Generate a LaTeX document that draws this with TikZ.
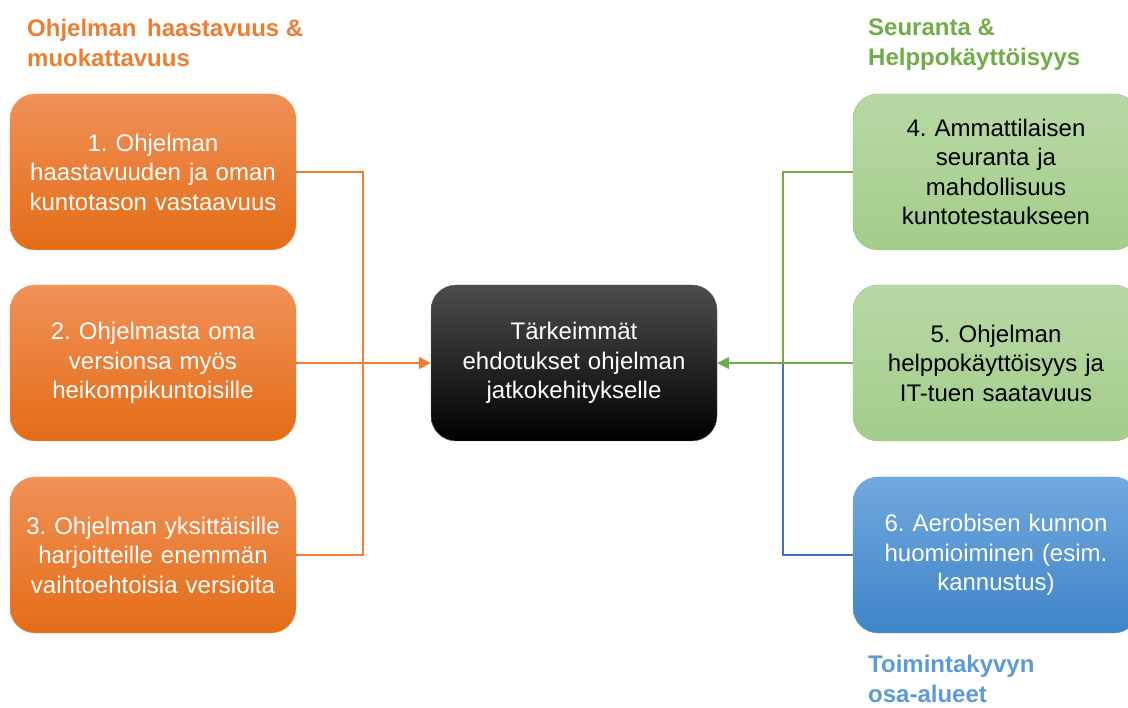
\documentclass[tikz,border=0pt]{standalone}
\usepackage{fontspec}
\setmainfont{Liberation Sans}
\usepackage{tikz}
\usetikzlibrary{arrows.meta}

\definecolor{ohjorange}{HTML}{ED7D31}
\definecolor{ohjgreen}{HTML}{70AD47}
\definecolor{ohjblue}{HTML}{5B9BD5}
\definecolor{linkblue}{HTML}{4472C4}
\frenchspacing

\begin{document}
\begin{tikzpicture}[x=1pt,y=-1pt]
      \tikzstyle{box}=[rectangle,rounded corners=25pt,minimum height=156pt,text width=276pt,inner sep=5pt,align=center,font=\fontsize{24}{29.5}\selectfont]
      \tikzstyle{obox}=[box,draw=ohjorange!75!white,top color={rgb,255:red,240;green,145;blue,88},middle color={rgb,255:red,241;green,126;blue,46},bottom color={rgb,255:red,228;green,108;blue,22},text=white]
      \tikzstyle{gbox}=[box,draw=ohjgreen!75!white,top color={rgb,255:red,184;green,216;blue,165},bottom color={rgb,255:red,163;green,205;blue,138},text=black]
      \tikzstyle{bbox}=[box,draw=ohjblue!90!white,top color={rgb,255:red,114;green,168;blue,222},bottom color={rgb,255:red,62;green,132;blue,200},text=white]
      \tikzstyle{cbox}=[box,draw=black!60,top color=black!70,middle color=black,bottom color=black,text=white]
      \tikzstyle{title}=[anchor=north west,inner sep=0pt,align=left,font=\fontsize{24}{30}\selectfont\bfseries]
      \tikzstyle{link}=[line width=1.6pt]
      \useasboundingbox (0,0) rectangle (1128,708);
      % ryhmien otsikot
      \node[title,text=ohjorange] (tleft) at (27,19) {Ohjelman \,haastavuus \&\\muokattavuus};
      \node[title,text=ohjgreen] (tright) at (868,19) {Seuranta \&\\Helppokäyttöisyys};
      \node[title,text=ohjblue] (tbottom) at (868,655) {Toimintakyvyn\\osa-alueet};
      % laatikot
      \node[obox] (o1) at (153,172) {1. Ohjelman\\haastavuuden ja oman\\kuntotason vastaavuus};
      \node[obox] (o2) at (153,363) {2. Ohjelmasta oma\\versionsa myös\\heikompikuntoisille};
      \node[obox] (o3) at (153,555) {3. Ohjelman yksittäisille\\harjoitteille enemmän\\vaihtoehtoisia versioita};
      \node[cbox] (main) at (574,363) {Tärkeimmät\\ehdotukset ohjelman\\jatkokehitykselle};
      \node[gbox] (g4) at (996,172) {4. Ammattilaisen\\seuranta ja\\mahdollisuus\\kuntotestaukseen};
      \node[gbox] (g5) at (996,363) {5. Ohjelman\\helppokäyttöisyys ja\\IT-tuen saatavuus};
      \node[bbox] (b6) at (996,555) {6. Aerobisen kunnon\\huomioiminen (esim.\\kannustus)};
      % liitokset
      \coordinate (ojoin) at (363,363);
      \coordinate (gjoin) at (783,363);
      \draw[link,ohjorange] (o1.east) -| (ojoin) |- (o3.east);
      \draw[link,ohjorange,-{Triangle[length=12pt,width=12pt]}] (o2.east) -- (main.west);
      \draw[link,ohjgreen] (g4.west) -| (gjoin);
      \draw[link,linkblue] (b6.west) -| (gjoin);
      \draw[link,ohjgreen,-{Triangle[length=12pt,width=12pt]}] (g5.west) -- (main.east);
\end{tikzpicture}
\end{document}
